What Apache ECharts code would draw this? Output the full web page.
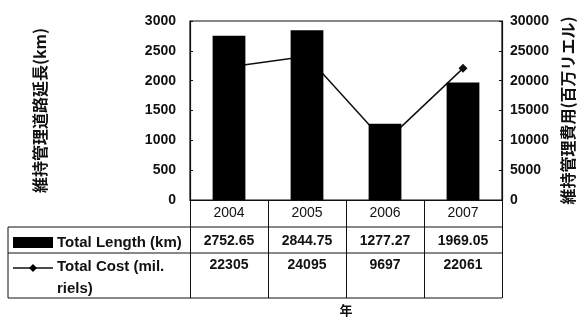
<!DOCTYPE html>
<html>
<head>
<meta charset="utf-8">
<script src="https://cdn.jsdelivr.net/npm/echarts@6/dist/echarts.min.js"></script>
<style>
  html, body { margin: 0; padding: 0; background: #fff; }
  #chart { width: 579px; height: 320px; }
</style>
</head>
<body>
<div id="chart"></div>
<script>
// Road maintenance: length maintained (km) and cost (million riels) per year
const years = ['2004', '2005', '2006', '2007'];
const totalLength = [2752.65, 2844.75, 1277.27, 1969.05];
const totalCost = [22305, 24095, 9697, 22061];
const lengthLabels = ['2752.65', '2844.75', '1277.27', '1969.05'];
const costLabels = ['22305', '24095', '9697', '22061'];
const lengthSeriesName = 'Total Length (km)';
const costSeriesName = ['Total Cost (mil.', 'riels)'];

const FONT = '"Liberation Sans", Arial, sans-serif';
const CJK = '"Noto Sans CJK JP", sans-serif';
const INK = '#111';

const chart = echarts.init(document.getElementById('chart'), null, { renderer: 'canvas' });

const plain = v => String(v);

const option = {
  animation: false,
  backgroundColor: '#fff',
  grid: {
    left: 190, right: 77, top: 21, bottom: 120,
    outerBoundsMode: 'none',
    containLabel: false,
    show: true, borderColor: INK, borderWidth: 1.2, backgroundColor: 'transparent'
  },
  xAxis: {
    type: 'category',
    data: years,
    name: '年',
    nameLocation: 'middle',
    nameGap: 104,
    nameTextStyle: { fontFamily: CJK, fontSize: 13, fontWeight: 'bold', color: INK },
    axisLine: { show: true, lineStyle: { color: INK, width: 1.2 } },
    axisTick: { show: true, length: 98, lineStyle: { color: INK, width: 1 } },
    axisLabel: { margin: 6, fontFamily: FONT, fontSize: 14, color: INK }
  },
  yAxis: [
    {
      type: 'value',
      min: 0, max: 3000, interval: 500,
      name: '維持管理道路延長(km)',
      nameLocation: 'middle',
      nameGap: 142,
      nameTextStyle: { fontFamily: CJK, fontSize: 16, fontWeight: 'bold', color: INK },
      axisLine: { show: true, lineStyle: { color: INK, width: 1.2 } },
      axisTick: { show: true, inside: true, length: 3, lineStyle: { color: INK } },
      axisLabel: { margin: 14, fontFamily: FONT, fontSize: 14, fontWeight: 'bold', color: INK, formatter: plain },
      splitLine: { show: false }
    },
    {
      type: 'value',
      min: 0, max: 30000, interval: 5000,
      name: '維持管理費用(百万リエル)',
      nameLocation: 'middle',
      nameGap: 56,
      nameTextStyle: { fontFamily: CJK, fontSize: 16, fontWeight: 'bold', color: INK },
      axisLine: { show: true, lineStyle: { color: INK, width: 1.2 } },
      axisTick: { show: true, inside: true, length: 3, lineStyle: { color: INK } },
      axisLabel: { margin: 8, fontFamily: FONT, fontSize: 14, fontWeight: 'bold', color: INK, formatter: plain },
      splitLine: { show: false }
    }
  ],
  series: [
    {
      name: lengthSeriesName,
      type: 'bar',
      yAxisIndex: 0,
      data: totalLength,
      barWidth: '42%',
      z: 3,
      itemStyle: { color: '#000' }
    },
    {
      name: costSeriesName.join(' '),
      type: 'line',
      yAxisIndex: 1,
      data: totalCost,
      z: 2,
      symbol: 'diamond',
      symbolSize: 9,
      lineStyle: { color: INK, width: 1.5 },
      itemStyle: { color: INK }
    }
  ]
};

chart.setOption(option);

// Data table under the plot, aligned to the category columns
function buildTable() {
  const g = [];
  const x0 = chart.convertToPixel({ xAxisIndex: 0 }, years[0]);
  const x1 = chart.convertToPixel({ xAxisIndex: 0 }, years[1]);
  const step = x1 - x0;
  const gridRight = x0 - step / 2 + step * years.length;
  const tableLeft = 8;
  const rowTop = 227, rowMid = 253, rowBottom = 298;
  const line = (xa, ya, xb, yb) => ({
    type: 'line',
    shape: { x1: xa, y1: ya, x2: xb, y2: yb },
    style: { stroke: INK, lineWidth: 1 }
  });
  g.push(line(tableLeft, rowTop, gridRight, rowTop));
  g.push(line(tableLeft, rowMid, gridRight, rowMid));
  g.push(line(tableLeft, rowBottom, gridRight, rowBottom));
  g.push(line(tableLeft, rowTop, tableLeft, rowBottom));

  // legend keys
  g.push({ type: 'rect', shape: { x: 13, y: 237, width: 40, height: 11 }, style: { fill: '#000' } });
  g.push({
    type: 'line',
    shape: { x1: 13, y1: 268, x2: 53, y2: 268 },
    style: { stroke: INK, lineWidth: 1.5 }
  });
  g.push({
    type: 'polygon',
    shape: { points: [[33, 264], [37, 268], [33, 272], [29, 268]] },
    style: { fill: '#000' }
  });
  const txt = (text, x, y, align, size) => ({
    type: 'text',
    style: {
      text, x, y, align: align || 'left', verticalAlign: 'middle',
      font: 'bold ' + (size || 14) + 'px ' + FONT, fill: INK
    }
  });
  g.push(txt(lengthSeriesName, 57, 243, 'left', 15));
  g.push(txt(costSeriesName[0], 57, 267, 'left', 15));
  g.push(txt(costSeriesName[1], 57, 289, 'left', 15));

  years.forEach((y, i) => {
    const cx = chart.convertToPixel({ xAxisIndex: 0 }, y);
    g.push(txt(lengthLabels[i], cx, 241, 'center'));
    g.push(txt(costLabels[i], cx, 265, 'center'));
  });
  chart.setOption({ graphic: { elements: g } });
}
buildTable();
</script>
</body>
</html>
